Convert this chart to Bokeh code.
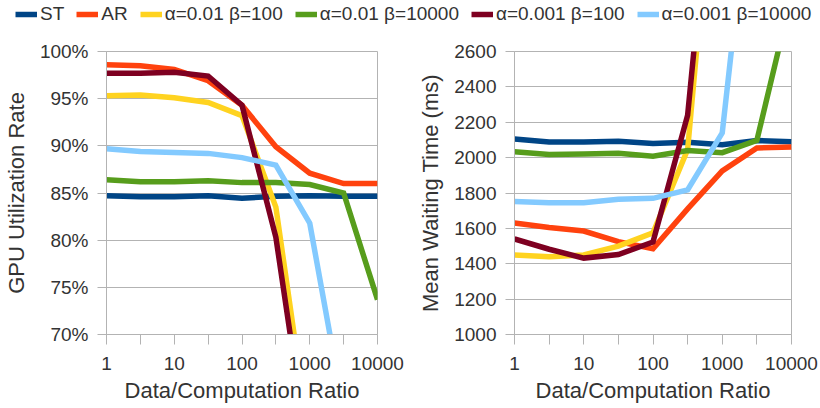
from bokeh.plotting import figure
from bokeh.models import (Range1d, FixedTicker, PrintfTickFormatter, NumeralTickFormatter,
                          Legend, LegendItem)
from bokeh.layouts import column, row
from bokeh.embed import file_html
from bokeh.resources import INLINE

nan = float("nan")

# ---- data ----
ratio = [1, 3.162, 10, 31.62, 100, 316.2, 1000, 3162, 10000]
x_major = [1, 10, 100, 1000, 10000]
x_minor = [3.162, 31.62, 316.2, 3162]

series_names = ["ST", "AR", "α=0.01 β=100", "α=0.01 β=10000", "α=0.001 β=100", "α=0.001 β=10000"]
series_colors = ["#004586", "#ff420e", "#ffd320", "#579d1c", "#7e0021", "#83caff"]

# GPU utilization rate (%)
util_st = [84.7, 84.6, 84.6, 84.7, 84.45, 84.65, 84.7, 84.65, 84.65]
util_ar = [98.6, 98.5, 98.1, 96.9, 94.3, 89.9, 87.1, 86.0, 86.0]
util_a01_b100 = [95.3, 95.4, 95.1, 94.6, 93.2, 83.5, 58.5, nan, nan]
util_a01_b10000 = [86.4, 86.2, 86.2, 86.3, 86.1, 86.1, 85.9, 85.0, 73.7]
util_a001_b100 = [97.7, 97.7, 97.8, 97.4, 94.3, 80.3, 56.0, nan, nan]
util_a001_b10000 = [89.7, 89.4, 89.3, 89.2, 88.75, 87.95, 81.8, 62.0, nan]
util_ticks = [70, 75, 80, 85, 90, 95, 100]

# Mean waiting time (ms)
wait_st = [2105, 2088, 2088, 2093, 2080, 2087, 2073, 2097, 2090]
wait_ar = [1630, 1605, 1585, 1525, 1485, 1710, 1925, 2055, 2060]
wait_a01_b100 = [1450, 1440, 1450, 1500, 1575, 2045, 4200, nan, nan]
wait_a01_b10000 = [2033, 2018, 2020, 2025, 2008, 2040, 2028, 2098, 2915]
wait_a001_b100 = [1540, 1482, 1432, 1452, 1523, 2240, 4250, nan, nan]
wait_a001_b10000 = [1752, 1745, 1745, 1765, 1770, 1818, 2140, 3900, nan]
wait_ticks = [1000, 1200, 1400, 1600, 1800, 2000, 2200, 2400, 2600]

util_series = [util_st, util_ar, util_a01_b100, util_a01_b10000, util_a001_b100, util_a001_b10000]
wait_series = [wait_st, wait_ar, wait_a01_b100, wait_a01_b10000, wait_a001_b100, wait_a001_b10000]

FONT = "Liberation Sans"
TXT = "#333333"
GRID = "#b3b3b3"
LW = 5.5


def make_plot(ys, y_range, y_ticks, y_label, pct, left, right):
    p = figure(width=410, height=368, x_axis_type="log",
               x_range=Range1d(1, 10000), y_range=Range1d(*y_range),
               toolbar_location=None, output_backend="svg",
               min_border_left=left, min_border_right=right,
               min_border_top=11, min_border_bottom=74)
    p.outline_line_color = GRID
    p.xgrid.visible = False
    p.ygrid.grid_line_color = GRID
    p.ygrid.grid_line_width = 1
    p.xaxis.ticker = FixedTicker(ticks=x_major, minor_ticks=x_minor)
    p.xaxis.formatter = NumeralTickFormatter(format="0")
    p.yaxis.ticker = FixedTicker(ticks=y_ticks)
    if pct:
        p.yaxis.formatter = PrintfTickFormatter(format="%d%%")
    p.xaxis.axis_label = "Data/Computation Ratio"
    p.yaxis.axis_label = y_label
    for ax in (p.xaxis, p.yaxis):
        ax.axis_line_color = GRID
        ax.major_tick_line_color = GRID
        ax.minor_tick_line_color = GRID
        ax.major_tick_in = 0
        ax.minor_tick_in = 0
        ax.major_label_text_font = FONT
        ax.major_label_text_font_size = "19px"
        ax.major_label_text_color = TXT
        ax.axis_label_text_font = FONT
        ax.axis_label_text_font_size = "22px"
        ax.axis_label_text_font_style = "normal"
        ax.axis_label_text_color = TXT
    p.xaxis.major_tick_out = 10
    p.xaxis.minor_tick_out = 10
    p.xaxis.major_label_standoff = 12
    p.xaxis.axis_label_standoff = 5
    p.yaxis.major_tick_out = 9
    p.yaxis.minor_tick_out = 0
    p.yaxis.major_label_standoff = 9
    p.yaxis.axis_label_standoff = 8
    for y, c in zip(ys, series_colors):
        p.line(ratio, y, line_color=c, line_width=LW, line_join="miter")
    return p


p1 = make_plot(util_series, (70, 100), util_ticks, "GPU Utilization Rate", True, 106, 33)
p2 = make_plot(wait_series, (1000, 2600), wait_ticks, "Mean Waiting Time (ms)", False, 104, 29)

# legend strip across the top
lf = figure(width=820, height=40, x_range=Range1d(0, 1), y_range=Range1d(0, 1),
            toolbar_location=None, output_backend="svg",
            x_axis_location=None, y_axis_location=None,
            min_border_left=15, min_border_right=0, min_border_top=3, min_border_bottom=0)
lf.grid.visible = False
lf.outline_line_color = None
items = []
for name, c in zip(series_names, series_colors):
    # legend-only dummy renderer, placed outside the visible range
    r = lf.line(x=[5, 6], y=[5, 6], line_color=c, line_width=LW)
    items.append(LegendItem(label=name, renderers=[r]))
leg = Legend(items=items, orientation="horizontal", location="top_left",
             margin=0, padding=0, spacing=12, label_standoff=3,
             glyph_width=22, glyph_height=14,
             label_text_font=FONT, label_text_font_size="19px", label_text_color=TXT,
             border_line_color=None, background_fill_alpha=0)
lf.add_layout(leg, "center")

layout = column(lf, row(p1, p2))
open("out.html", "w").write(file_html(layout, INLINE))
